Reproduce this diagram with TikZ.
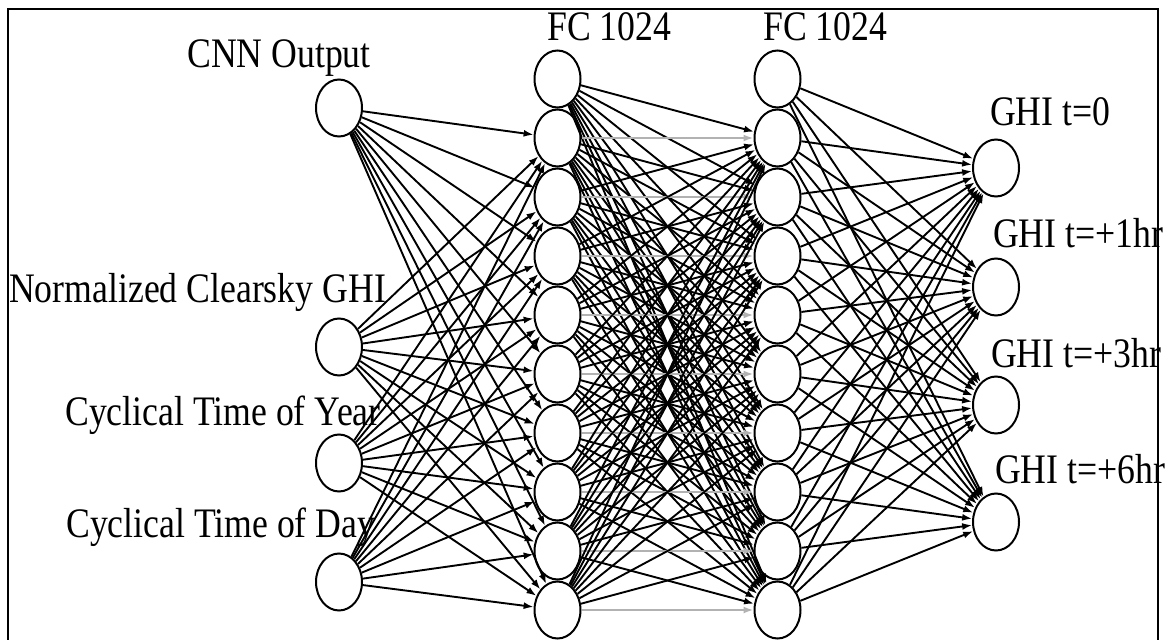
\documentclass[tikz,border=0pt]{standalone}
\usepackage{fontspec}
\setmainfont{Liberation Serif}[FakeStretch=0.85]
\usetikzlibrary{shapes.geometric,arrows.meta}
\begin{document}
\begin{tikzpicture}[x=1pt,y=-1pt,
  neuron/.style={ellipse,draw,line width=2pt,fill=white,
    minimum width=46pt,minimum height=57pt,inner sep=0pt},
  lbl/.style={anchor=base west,inner sep=0pt,font=\fontsize{42}{48}\selectfont},
  conn/.style={line width=1.9pt,-{Latex[length=10pt,width=7pt]}},
  flat/.style={conn,draw=gray!60}]
\useasboundingbox (0,0) rectangle (1165,640);
% open frame around the network
\draw[line width=2.2pt] (8,660) -- (8,9) -- (1158,9) -- (1158,660);

% input layer
\foreach \y [count=\i] in {108,347,463,582}
  \node[neuron] (in\i) at (339,\y) {};
% first fully connected layer
\foreach \i in {1,...,10}
  \node[neuron] (h\i) at (557.5,{79+59*(\i-1)}) {};
% second fully connected layer
\foreach \i in {1,...,10}
  \node[neuron] (g\i) at (777.5,{79+59*(\i-1)}) {};
% output layer
\foreach \y [count=\i] in {168,287,405,522}
  \node[neuron] (out\i) at (996,\y) {};

% connections
\foreach \a in {1,...,4}
  \foreach \b in {2,...,10}
    \draw[conn] (in\a) -- (h\b);
\foreach \a in {1,...,10}
  \foreach \b in {2,...,10}{
    \ifnum\a=\b
      \draw[flat] (h\a) -- (g\b);
    \else
      \draw[conn] (h\a) -- (g\b);
    \fi
  }
\foreach \a in {1,...,10}
  \foreach \b in {1,...,4}
    \draw[conn] (g\a) -- (out\b);

% labels
\node[lbl] (tcnn) at (187,67) {CNN Output};
\node[lbl] (tclr) at (9,302) {Normalized Clearsky GHI};
\node[lbl] (tyear) at (65,425) {Cyclical Time of Year};
\node[lbl] (tday) at (66,537) {Cyclical Time of Day};
\node[lbl] (tfc1) at (547,40) {FC 1024};
\node[lbl] (tfc2) at (763,40) {FC 1024};
\node[lbl] (to1) at (990,125) {GHI t=0};
\node[lbl] (to2) at (993,247) {GHI t=+1hr};
\node[lbl] (to3) at (991,367) {GHI t=+3hr};
\node[lbl] (to4) at (995,483) {GHI t=+6hr};
\end{tikzpicture}
\end{document}
